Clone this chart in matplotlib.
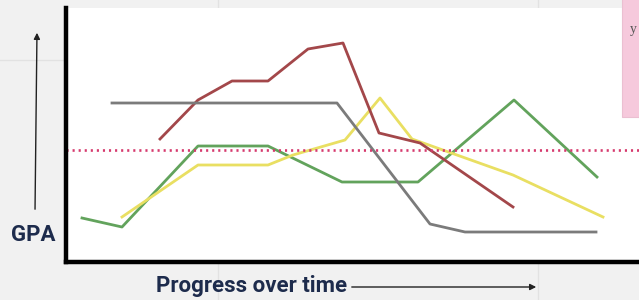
import matplotlib
matplotlib.use("Agg")
import matplotlib.pyplot as plt
from matplotlib.patches import Rectangle

# ---- data (time position, GPA height) ----
green_x = [16, 56, 132, 202, 276, 352, 448, 531]
green_y = [44, 35, 116, 116, 80, 80, 162, 85]

yellow_x = [56, 132, 202, 227, 279, 314, 346, 447, 537]
yellow_y = [45, 97, 97, 107, 122, 164, 123, 87, 45]

red_x = [94, 132, 166, 202, 242, 277, 313, 354, 447]
red_y = [123, 162, 181, 181, 213, 219, 129, 119, 55]

gray_x = [46, 271, 364, 399, 530]
gray_y = [159, 159, 38, 30, 30]

average_gpa = 112

W, H = 639, 300
fig = plt.figure(figsize=(W / 100, H / 100), dpi=100)
fig.patch.set_facecolor("#f1f1f1")

# background canvas (slide) in pixel coords
bg = fig.add_axes([0, 0, 1, 1])
bg.set_xlim(0, W)
bg.set_ylim(H, 0)
bg.axis("off")
bg.set_facecolor("none")
for gx in (218, 538):
    bg.plot([gx, gx], [0, H], color="#e2e2e2", lw=1, zorder=0)
bg.plot([0, 66], [60, 60], color="#e2e2e2", lw=1, zorder=0)

# main plot area
x0, x1, ytop, ybot = 66, 639, 8, 262
ax = fig.add_axes([x0 / W, (H - ybot) / H, (x1 - x0) / W, (ybot - ytop) / H])
ax.set_facecolor("white")
ax.set_xlim(0, x1 - x0)
ax.set_ylim(0, ybot - ytop)
ax.set_xticks([])
ax.set_yticks([])
for s in ("top", "right"):
    ax.spines[s].set_visible(False)
for s in ("left", "bottom"):
    ax.spines[s].set_linewidth(3.2)
    ax.spines[s].set_color("black")

lw = 2.0
ax.plot(green_x, green_y, color="#62a35c", lw=lw, solid_joinstyle="round")
ax.plot(yellow_x, yellow_y, color="#e9df62", lw=lw, solid_joinstyle="round")
ax.plot(red_x, red_y, color="#a3474a", lw=lw, solid_joinstyle="round")
ax.plot(gray_x, gray_y, color="#7b7b7b", lw=lw, solid_joinstyle="round")
ax.axhline(average_gpa, color="#d63a6e", lw=1.9, linestyle=(0, (0.8, 1.5)))

# overlay in pixel coords (on top of the plot area)
top = fig.add_axes([0, 0, 1, 1])
top.set_xlim(0, W)
top.set_ylim(H, 0)
top.axis("off")
top.set_facecolor("none")

# pink sticky note on the right
top.add_patch(Rectangle((622, -2), 22, 119, facecolor="#f6c9dc", edgecolor="#ebbfd1", lw=0.8))
top.text(630, 30, "y", fontsize=10, color="#555555", family="Liberation Serif", va="center")

navy = "#1d2b4c"
# GPA arrow and label
top.annotate("", xy=(37, 30), xytext=(35, 212),
             arrowprops=dict(arrowstyle="-|>", color="#222222", lw=1.0, mutation_scale=9))
top.text(33, 235, "GPA", fontsize=16, fontweight="bold", color=navy,
         family="Roboto", ha="center", va="center")

# x label and arrow
top.text(252, 286, "Progress over time", fontsize=16, fontweight="bold", color=navy,
         family="Roboto", ha="center", va="center")
top.annotate("", xy=(539, 287), xytext=(349, 287),
             arrowprops=dict(arrowstyle="-|>", color="#222222", lw=1.0, mutation_scale=9))

fig.savefig("out.png", dpi=100, facecolor=fig.get_facecolor())
